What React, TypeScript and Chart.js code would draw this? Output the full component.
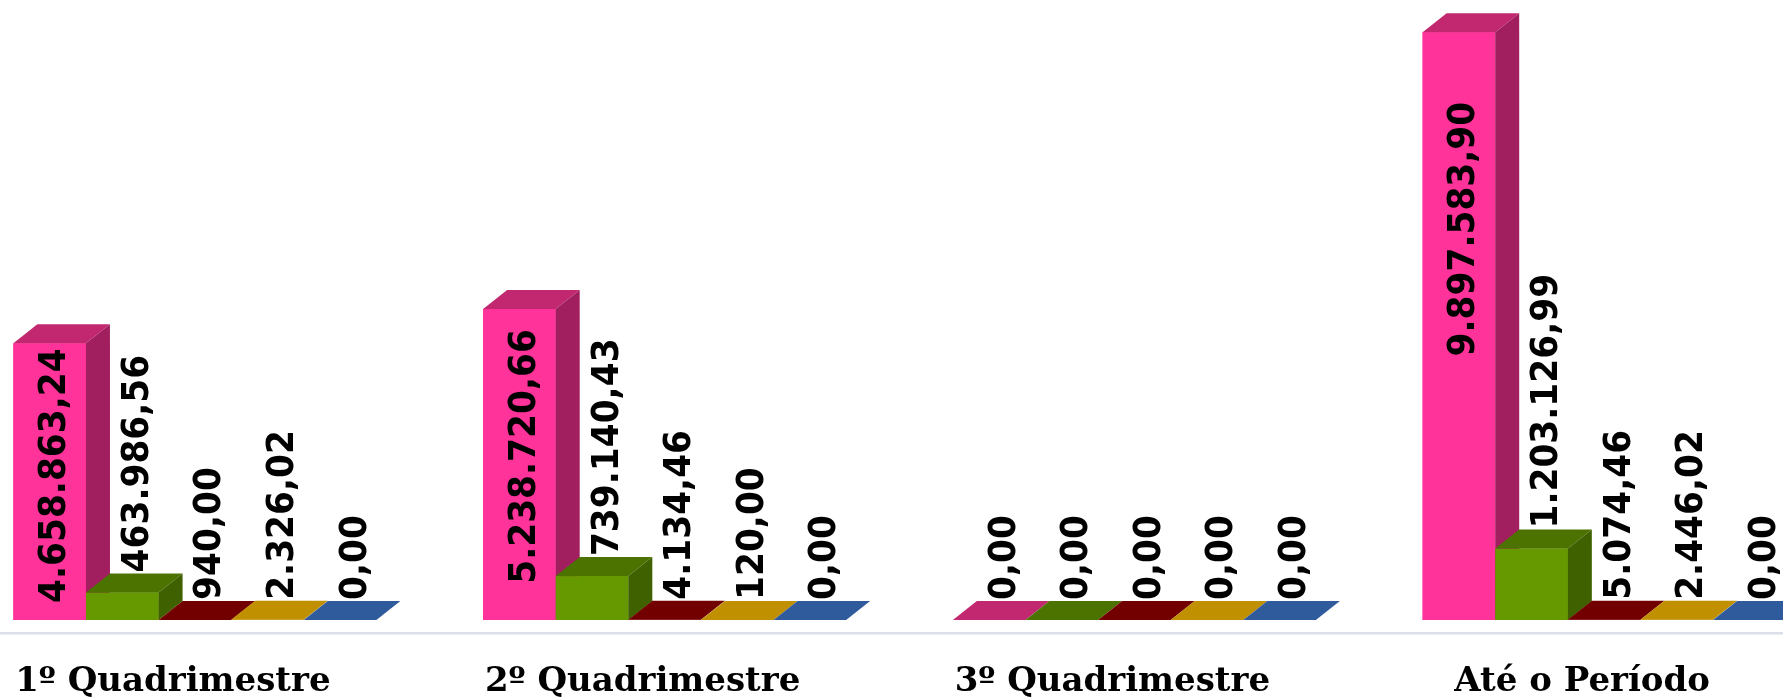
import React, { useEffect, useRef } from "react";
import { Chart, registerables } from "chart.js";

Chart.register(...registerables);

// ---- data ----
const categories = ["1º Quadrimestre", "2º Quadrimestre", "3º Quadrimestre", "Até o Período"];
const seriesNames = ["Série 1", "Série 2", "Série 3", "Série 4", "Série 5"];
const series1Values = [4658863.24, 5238720.66, 0, 9897583.9];
const series2Values = [463986.56, 739140.43, 0, 1203126.99];
const series3Values = [940.0, 4134.46, 0, 5074.46];
const series4Values = [2326.02, 120.0, 0, 2446.02];
const series5Values = [0, 0, 0, 0];

// ---- styles ----
const frontColors = ["#FF3399", "#669900", "#800000", "#CC9900", "#3366AA"];
const topColors = ["#C12870", "#4C7200", "#730000", "#C09000", "#2F5A9B"];
const sideColors = ["#A21F5F", "#3F6100", "#600000", "#A07800", "#254A80"];
const DEPTH_X = 24;
const DEPTH_Y = 19;
// vertical nudge of labels drawn inside tall bars (per category)
const insideLabelLift = [6, 8, 0, 97];

const CANVAS_W = 1879;
const CANVAS_H = 699;
const CANVAS_LEFT = -40;

function fmt(v: number): string {
  const [i, d] = v.toFixed(2).split(".");
  return i.replace(/\B(?=(\d{3})+(?!\d))/g, ".") + "," + d;
}

function poly(ctx: CanvasRenderingContext2D, pts: number[][], color: string) {
  ctx.beginPath();
  ctx.moveTo(pts[0][0], pts[0][1]);
  for (let k = 1; k < pts.length; k++) ctx.lineTo(pts[k][0], pts[k][1]);
  ctx.closePath();
  ctx.fillStyle = color;
  ctx.fill();
}

const threeDPlugin = {
  id: "threeD",
  afterDatasetsDraw(chart: any) {
    const ctx: CanvasRenderingContext2D = chart.ctx;
    const yScale = chart.scales.y;
    const xScale = chart.scales.x;
    const baseY = yScale.getPixelForValue(0);
    ctx.save();

    // axis / floor line
    ctx.fillStyle = "#DCDFE7";
    ctx.fillRect(0, baseY + 12, chart.width, 2.5);

    // bars (front, top, side) in series order
    chart.data.datasets.forEach((ds: any, di: number) => {
      const meta = chart.getDatasetMeta(di);
      meta.data.forEach((bar: any) => {
        const { x, y, base, width } = bar.getProps(["x", "y", "base", "width"], true);
        const l = x - width / 2;
        const r = x + width / 2;
        if (base - y > 0) {
          ctx.fillStyle = frontColors[di];
          ctx.fillRect(l, y, width, base - y);
        }
        poly(ctx, [[l, y], [l + DEPTH_X, y - DEPTH_Y], [r + DEPTH_X, y - DEPTH_Y], [r, y]], topColors[di]);
        if (base - y > 0.5) {
          poly(ctx, [[r, y], [r + DEPTH_X, y - DEPTH_Y], [r + DEPTH_X, base - DEPTH_Y], [r, base]], sideColors[di]);
        }
      });
    });

    // value labels
    const fontSize = 37;
    const squeeze = 0.93;
    const cap = fontSize * 0.729;
    ctx.font = `bold ${fontSize}px "DejaVu Sans", "Liberation Sans", sans-serif`;
    ctx.fillStyle = "#000000";
    chart.data.datasets.forEach((ds: any, di: number) => {
      const meta = chart.getDatasetMeta(di);
      meta.data.forEach((bar: any, ci: number) => {
        const { x, y, base, width } = bar.getProps(["x", "y", "base", "width"], true);
        const text = fmt(ds.data[ci]);
        const tw = ctx.measureText(text).width * squeeze;
        const h = base - y;
        ctx.save();
        if (tw + 10 < h) {
          const cy = (y + base) / 2 - insideLabelLift[ci];
          ctx.translate(x + 2 + cap / 2, cy);
          ctx.rotate(-Math.PI / 2);
          ctx.scale(squeeze, 1);
          ctx.textAlign = "center";
        } else {
          ctx.translate(x + DEPTH_X / 2 + cap / 2, y - DEPTH_Y - 1);
          ctx.rotate(-Math.PI / 2);
          ctx.scale(squeeze, 1);
          ctx.textAlign = "left";
        }
        ctx.textBaseline = "alphabetic";
        ctx.fillText(text, 0, 0);
        ctx.restore();
      });
    });

    // category labels
    ctx.font = `bold 34px "DejaVu Serif", "Liberation Serif", serif`;
    ctx.fillStyle = "#000000";
    ctx.textAlign = "center";
    ctx.textBaseline = "alphabetic";
    categories.forEach((c, i) => {
      const cx = xScale.getPixelForValue(i) - 22;
      ctx.fillText(c, cx, 691);
    });

    ctx.restore();
  },
};

export default function App() {
  const canvasRef = useRef<HTMLCanvasElement | null>(null);

  useEffect(() => {
    if (!canvasRef.current) return;
    const allSeries = [series1Values, series2Values, series3Values, series4Values, series5Values];
    const chart = new Chart(canvasRef.current, {
      type: "bar",
      data: {
        labels: categories,
        datasets: allSeries.map((vals, i) => ({
          label: seriesNames[i],
          data: vals,
          backgroundColor: frontColors[i],
          borderWidth: 0,
          categoryPercentage: 0.7728,
          barPercentage: 1,
        })),
      },
      options: {
        responsive: false,
        animation: false,
        layout: { padding: { top: 0, bottom: 79, left: 0, right: 0 } },
        plugins: {
          legend: { display: false },
          tooltip: { enabled: false },
          title: { display: false },
        },
        scales: {
          x: { display: false, offset: true, grid: { display: false } },
          y: { display: false, min: 0, max: 10440000, grid: { display: false } },
        },
      },
      plugins: [threeDPlugin],
    } as any);
    return () => chart.destroy();
  }, []);

  return (
    <div
      style={{
        position: "fixed",
        left: 0,
        top: 0,
        width: 1783,
        height: 699,
        overflow: "hidden",
        background: "#ffffff",
      }}
    >
      <canvas
        ref={canvasRef}
        width={CANVAS_W}
        height={CANVAS_H}
        style={{ position: "absolute", left: CANVAS_LEFT, top: 0, width: CANVAS_W, height: CANVAS_H }}
      />
    </div>
  );
}
